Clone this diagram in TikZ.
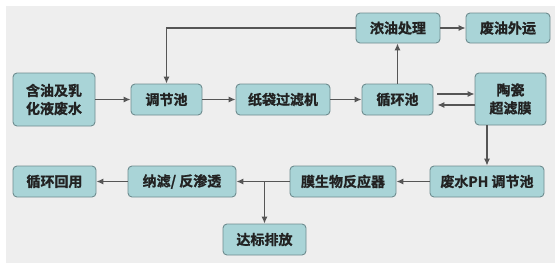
\documentclass[tikz,border=0pt]{standalone}
\usepackage{fontspec}
\newfontfamily\cjk{Noto Sans CJK SC}[BoldFont={Noto Sans CJK SC Bold}, BoldFeatures={FakeBold=1.2}]
\usetikzlibrary{arrows.meta,calc}
\definecolor{bgc}{HTML}{EEEEEE}
\definecolor{boxfill}{HTML}{A9D4D7}
\definecolor{boxline}{HTML}{6E8C8F}
\definecolor{linec}{HTML}{555555}
\definecolor{txt}{HTML}{222222}
\tikzset{
  box/.style={draw=boxline, fill=boxfill, line width=0.9pt, rounded corners=4pt,
    inner sep=0pt, align=center, text=txt,
    font=\cjk\bfseries\fontsize{14}{18}\selectfont},
  conn/.style={draw=linec, line width=1.1pt, -{Latex[length=7pt,width=6pt]}},
}
\begin{document}
\begin{tikzpicture}[x=1pt,y=-1pt]
\useasboundingbox (0,0) rectangle (558,269);
\fill[white] (0,0) rectangle (558,269);
\fill[bgc] (6,6) rectangle (555,263);

\node[box, minimum width=82, minimum height=53] (A) at (54,99.5) {含油及乳\\化液废水};
\node[box, minimum width=71, minimum height=31] (B) at (166.5,99.5) {调节池};
\node[box, minimum width=94, minimum height=31] (C) at (283,99.5) {纸袋过滤机};
\node[box, minimum width=71, minimum height=31] (D) at (397.5,99.5) {循环池};
\node[box, minimum width=71, minimum height=52] (E) at (510.5,99) {陶瓷\\超滤膜};
\node[box, minimum width=84, minimum height=30] (F) at (398,28) {浓油处理};
\node[box, minimum width=84, minimum height=30] (G) at (508,28) {废油外运};
\node[box, minimum width=114, minimum height=31] (H) at (487,181.5) {废水PH 调节池};
\node[box, minimum width=106, minimum height=31] (I) at (343,181.5) {膜生物反应器};
\node[box, minimum width=108, minimum height=31] (J) at (182,181.5) {纳滤/ 反渗透};
\node[box, minimum width=83, minimum height=31] (K) at (54.5,181.5) {循环回用};
\node[box, minimum width=83, minimum height=31] (L) at (264.5,239.5) {达标排放};

\coordinate (corner) at (B.north |- F.west);
\coordinate (branch) at (L.north |- J.east);
\coordinate (d1) at ($(D.east)+(4,-5.5)$);
\coordinate (e1) at (E.west |- d1);
\coordinate (d2) at ($(D.east)+(4,5.5)$);
\coordinate (e2) at (E.west |- d2);

\draw[conn] (A) -- (B);
\draw[conn] (B) -- (C);
\draw[conn] (C) -- (D);
\draw[conn] (F.west) -- (corner) -- (B.north);
\draw[conn] (D.north) -- (D.north |- F.south);
\draw[conn] (F) -- (G);
\draw[conn] (d1) -- (e1);
\draw[conn] (e2) -- (d2);
\draw[conn] (E.south -| H.north) -- (H.north);
\draw[conn] (H) -- (I);
\draw[conn] (I) -- (J);
\draw[conn] (J) -- (K);
\draw[conn] (branch) -- (L.north);
\end{tikzpicture}
\end{document}
